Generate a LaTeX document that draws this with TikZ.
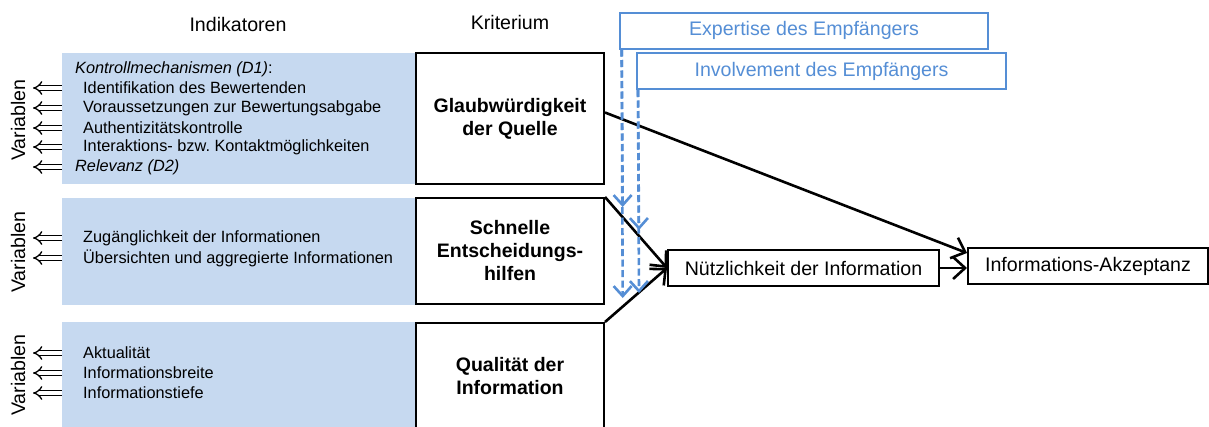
\documentclass[tikz,border=0pt]{standalone}
\usepackage{fontspec}
\setmainfont{Liberation Sans}
\usetikzlibrary{arrows.meta}
\definecolor{indblue}{RGB}{198,217,240}
\definecolor{modblue}{RGB}{85,142,213}
\tikzstyle{indbox}=[shape=rectangle,fill=indblue,inner sep=0pt,outer sep=0pt,minimum width=353pt]
\tikzstyle{kritbox}=[shape=rectangle,draw=black,line width=2pt,fill=white,align=center,minimum width=188pt,font=\fontsize{19.5pt}{23pt}\selectfont\bfseries]
\tikzstyle{modbox}=[shape=rectangle,draw=modblue,line width=2pt,text=modblue,minimum height=36pt,font=\fontsize{19.6pt}{23pt}\selectfont]
\tikzstyle{zielbox}=[shape=rectangle,draw=black,line width=2pt,minimum height=36pt,font=\fontsize{19.6pt}{23pt}\selectfont]
\tikzstyle{indline}=[anchor=west,inner sep=0pt,font=\fontsize{16.3pt}{19.6pt}\selectfont]
\tikzstyle{heading}=[font=\fontsize{19.6pt}{23pt}\selectfont]
\tikzset{
  varrow/.style={double,double distance=3.4pt,line width=1.3pt,-{Implies[length=10pt,width=20pt]}},
  pfeil/.style={line width=2.6pt,-{Straight Barb[length=12pt,width=22pt,line width=2.6pt]}},
  modarrow/.style={modblue,line width=2.6pt,dash pattern=on 7pt off 3.5pt,-{Straight Barb[length=10pt,width=18pt,line width=2.6pt]}}
}

\begin{document}
\begin{tikzpicture}[x=1pt,y=-1pt]
\useasboundingbox (0,0) rectangle (1209,426);
% headings
\node[heading] (hind) at (238,24) {Indikatoren};
\node[heading] (hkrit) at (510,22) {Kriterium};
% indicator boxes
\node[indbox,minimum height=131pt] (ind1) at (238.5,118.5) {};
\node[indbox,minimum height=107pt] (ind2) at (238.5,251.5) {};
\node[indbox,minimum height=108pt] (ind3) at (238.5,376) {};
% criteria
\node[kritbox,minimum height=131pt] (kr1) at (510,118.5) {Glaubwürdigkeit\\der Quelle};
\node[kritbox,minimum height=106pt] (kr2) at (510,251) {Schnelle\\Entscheidungs-\\hilfen};
\node[kritbox,minimum height=107pt] (kr3) at (510,376.5) {Qualität der\\Information};
% indicators, box 1
\node[indline] (k0) at (75,69) {\textit{Kontrollmechanismen (D1)}:};
\node[indline] (k1) at (83,88) {Identifikation des Bewertenden};
\node[indline] (k2) at (83,108) {Voraussetzungen zur Bewertungsabgabe};
\node[indline] (k3) at (83,128) {Authentizitätskontrolle};
\node[indline] (k4) at (83,147) {Interaktions- bzw.\ Kontaktmöglichkeiten};
\node[indline] (k5) at (75,167) {\textit{Relevanz (D2)}};
% indicators, box 2
\node[indline] (e1) at (83,238) {Zugänglichkeit der Informationen};
\node[indline] (e2) at (83,258) {Übersichten und aggregierte Informationen};
% indicators, box 3
\node[indline] (q1) at (83,353) {Aktualität};
\node[indline] (q2) at (83,373) {Informationsbreite};
\node[indline] (q3) at (83,393) {Informationstiefe};
% variables
\node[heading,rotate=90] (var1) at (18,120) {Variablen};
\node[heading,rotate=90] (var2) at (18,252) {Variablen};
\node[heading,rotate=90] (var3) at (18,375) {Variablen};
\draw[varrow] (ind1.west |- k1.west) -- ++(-29,0);
\draw[varrow] (ind1.west |- k2.west) -- ++(-29,0);
\draw[varrow] (ind1.west |- k3.west) -- ++(-29,0);
\draw[varrow] (ind1.west |- k4.west) -- ++(-29,0);
\draw[varrow] (ind1.west |- k5.west) -- ++(-29,0);
\draw[varrow] (ind2.west |- e1.west) -- ++(-29,0);
\draw[varrow] (ind2.west |- e2.west) -- ++(-29,0);
\draw[varrow] (ind3.west |- q1.west) -- ++(-29,0);
\draw[varrow] (ind3.west |- q2.west) -- ++(-29,0);
\draw[varrow] (ind3.west |- q3.west) -- ++(-29,0);
% moderators
\node[modbox,minimum width=368pt] (exp) at (804,30.5) {Expertise des Empfängers};
\node[modbox,minimum width=369pt] (inv) at (821.5,71) {Involvement des Empfängers};
% outcome
\node[zielbox,minimum width=271pt] (nutz) at (803.5,268) {Nützlichkeit der Information};
\node[zielbox,minimum width=240pt] (akz) at (1088,266) {Informations-Akzeptanz};
\draw[pfeil] ([yshift=6pt]kr1.east) -- ([yshift=13pt]akz.west);
\draw[pfeil] (kr2.north east) -- (nutz.west);
\draw[pfeil] (kr3.north east) -- (nutz.west);
\draw[pfeil] (nutz.east) -- (nutz.east -| akz.west);
% moderating effects
\coordinate (m1) at ([xshift=2.7pt]exp.south west);
\coordinate (m2) at ([xshift=2pt]inv.south west);
\coordinate (m1a) at (622.7,207);
\coordinate (m1b) at (622.7,298);
\coordinate (m2a) at (639,230);
\coordinate (m2b) at (639,293);
\draw[modarrow] (m1) -- (m1a);
\draw[modarrow] (m1) -- (m1b);
\draw[modarrow] (m2) -- (m2a);
\draw[modarrow] (m2) -- (m2b);
\end{tikzpicture}
\end{document}
